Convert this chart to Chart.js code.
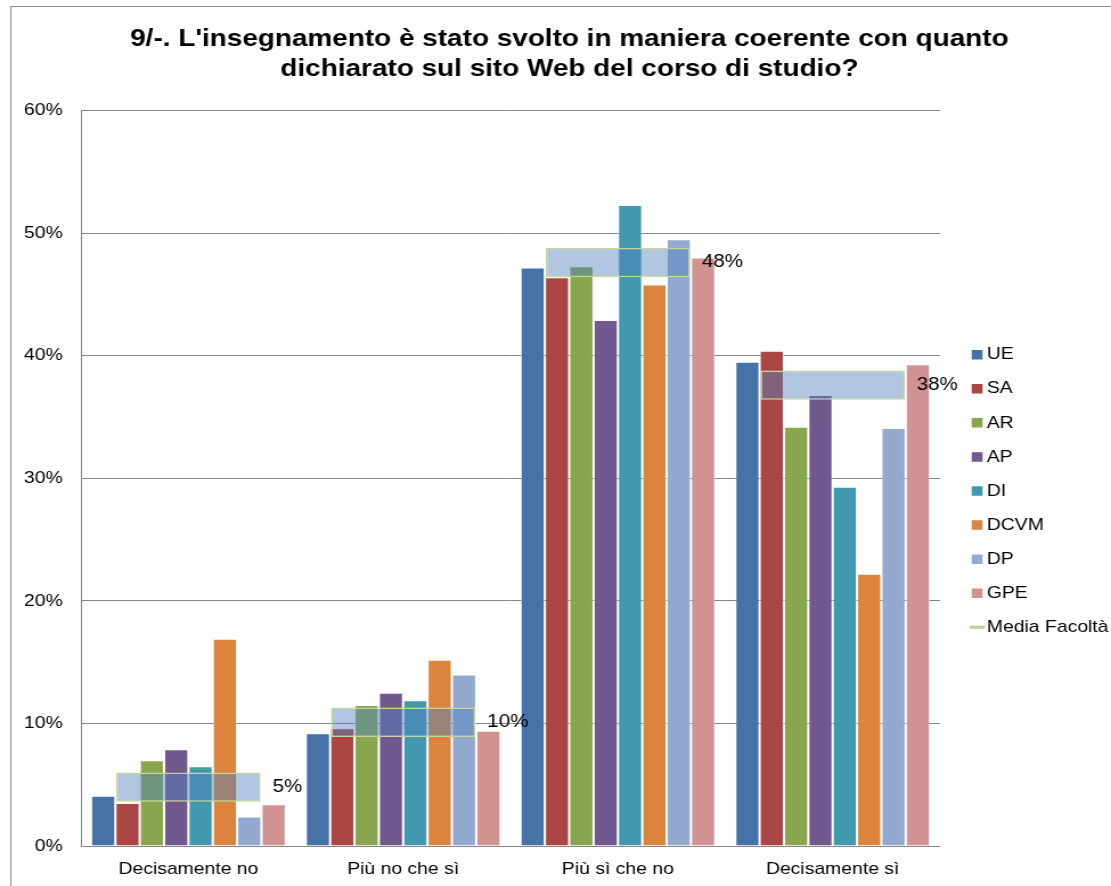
<!DOCTYPE html>
<html>
<head>
<meta charset="utf-8">
<title>9/-. L'insegnamento è stato svolto in maniera coerente</title>
<script src="https://cdn.jsdelivr.net/npm/chart.js@4.4.1/dist/chart.umd.min.js"></script>
<style>
    html, body { margin: 0; padding: 0; background: #fff; overflow: hidden; }
    /* the reference is stretched a bit horizontally, so is this */
    #wrap { width: 975px; height: 886px; transform: scaleX(1.13949); transform-origin: 0 0; }
    canvas { display: block; }
</style>
</head>
<body>
<div id="wrap"><canvas id="surveyChart" width="975" height="886"></canvas></div>
<script>
// Data (percentages)
const categories = ['Decisamente no', 'Più no che sì', 'Più sì che no', 'Decisamente sì'];
const seriesNames = ['UE', 'SA', 'AR', 'AP', 'DI', 'DCVM', 'DP', 'GPE'];
const UE = [4.1, 9.2, 47.2, 39.5];
const SA = [3.5, 9.6, 46.4, 40.4];
const AR = [7.0, 11.5, 47.3, 34.2];
const AP = [7.9, 12.5, 42.9, 36.8];
const DI = [6.5, 11.9, 52.3, 29.3];
const DCVM = [16.9, 15.2, 45.8, 22.2];
const DP = [2.4, 14.0, 49.5, 34.1];
const GPE = [3.4, 9.4, 48.0, 39.3];
const mediaFacolta = [4.8, 10.1, 47.6, 37.6];
const yTicks = [0, 10, 20, 30, 40, 50, 60];

const seriesColors = ['#4572A7', '#AA4643', '#89A54E', '#71588F', '#4198AF', '#DB843D', '#93A9CF', '#D19392'];
const FONT = "'Liberation Sans', Arial, sans-serif";
const mediaHalf = 1.2; // half height of the average box, in %

Chart.defaults.font.family = FONT;
Chart.defaults.color = '#000';

// frame round the whole chart (only left/top edges are visible)
const framePlugin = {
    id: 'frame',
    beforeDraw(chart) {
        const ctx = chart.ctx;
        ctx.save();
        ctx.fillStyle = '#fff';
        ctx.fillRect(0, 0, chart.width, chart.height);
        ctx.strokeStyle = '#8c8c8c';
        ctx.lineWidth = 1;
        ctx.strokeRect(9.6, 6.5, chart.width + 20, chart.height + 20);
        ctx.restore();
    }
};

// value labels next to the average boxes
const mediaLabels = {
    id: 'mediaLabels',
    afterDatasetsDraw(chart) {
        const meta = chart.getDatasetMeta(seriesNames.length);
        const ctx = chart.ctx;
        ctx.save();
        ctx.font = '18px ' + FONT;
        ctx.fillStyle = '#000';
        ctx.textAlign = 'left';
        ctx.textBaseline = 'middle';
        meta.data.forEach((bar, i) => {
            const p = bar.getProps(['x', 'y', 'base', 'width'], true);
            ctx.fillText(Math.round(mediaFacolta[i]) + '%', p.x + p.width / 2 + 10.5, (p.y + p.base) / 2);
        });
        ctx.restore();
    }
};

function initChart() {
    const ctx = document.getElementById('surveyChart');
    const values = [UE, SA, AR, AP, DI, DCVM, DP, GPE];

    const datasets = seriesNames.map((name, i) => ({
        label: name,
        data: values[i],
        backgroundColor: seriesColors[i],
        borderColor: 'rgba(255,255,255,0.45)',
        borderWidth: 1,
        categoryPercentage: 0.907,
        barPercentage: 1
    }));

    datasets.push({
        label: 'Media Facoltà',
        data: mediaFacolta.map(v => [v - mediaHalf, v + mediaHalf]),
        backgroundColor: 'rgba(79,129,189,0.45)',
        borderColor: '#C3D69B',
        borderWidth: 1.5,
        borderSkipped: false,
        grouped: false,
        categoryPercentage: 1,
        barPercentage: 0.672,
        order: -1
    });

    new Chart(ctx, {
        type: 'bar',
        data: { labels: categories, datasets: datasets },
        plugins: [framePlugin, mediaLabels],
        options: {
            responsive: false,
            animation: false,
            // negative right padding only shifts the centred title a little
            layout: { padding: { left: 16.6, right: -7.8, top: 0, bottom: 0 } },
            plugins: {
                title: {
                    display: true,
                    text: ["9/-. L'insegnamento è stato svolto in maniera coerente con quanto",
                           'dichiarato sul sito Web del corso di studio?'],
                    font: { size: 24.5, weight: 'bold', lineHeight: 1.2 },
                    color: '#000',
                    padding: { top: 25, bottom: 26.7 }
                },
                legend: {
                    position: 'right',
                    fullSize: false,
                    title: { display: true, text: ' ', font: { size: 10, lineHeight: 1 }, padding: 7.75 },
                    labels: {
                        font: { size: 17 },
                        usePointStyle: true,
                        boxWidth: 0.01,
                        boxHeight: 9.5,
                        padding: 17.07,
                        generateLabels: function(chart) {
                            return chart.data.datasets.map((ds, i) => {
                                const isMedia = i === seriesNames.length;
                                return {
                                    text: ds.label,
                                    fillStyle: isMedia ? '#b7cf91' : ds.backgroundColor,
                                    strokeStyle: isMedia ? '#b7cf91' : ds.backgroundColor,
                                    lineWidth: isMedia ? 3 : 0,
                                    pointStyle: isMedia ? 'line' : 'rect',
                                    hidden: false,
                                    datasetIndex: i
                                };
                            });
                        }
                    }
                },
                tooltip: { enabled: false }
            },
            scales: {
                x: {
                    grid: { display: false, drawTicks: false },
                    border: { display: true, color: '#868686', width: 1 },
                    ticks: { font: { size: 17 }, padding: 12.8, color: '#000' },
                    afterFit: function(scale) {
                        scale.height = 40;
                    }
                },
                y: {
                    min: yTicks[0],
                    max: yTicks[yTicks.length - 1],
                    afterBuildTicks: function(scale) {
                        scale.ticks = yTicks.map(v => ({ value: v }));
                    },
                    afterFit: function(scale) {
                        scale.width = 54.5;
                    },
                    grid: { color: '#868686', lineWidth: 1, drawTicks: false },
                    border: { display: true, color: '#868686', width: 1 },
                    ticks: {
                        font: { size: 17 },
                        padding: 16,
                        color: '#000',
                        callback: function(value) {
                            return value + '%';
                        }
                    }
                },
                gap: {
                    type: 'linear',
                    position: 'right',
                    grid: { display: false },
                    border: { display: false },
                    ticks: { display: false },
                    afterFit: function(scale) {
                        scale.width = 15.5;
                    }
                }
            }
        }
    });
}

initChart();
</script>
</body>
</html>
